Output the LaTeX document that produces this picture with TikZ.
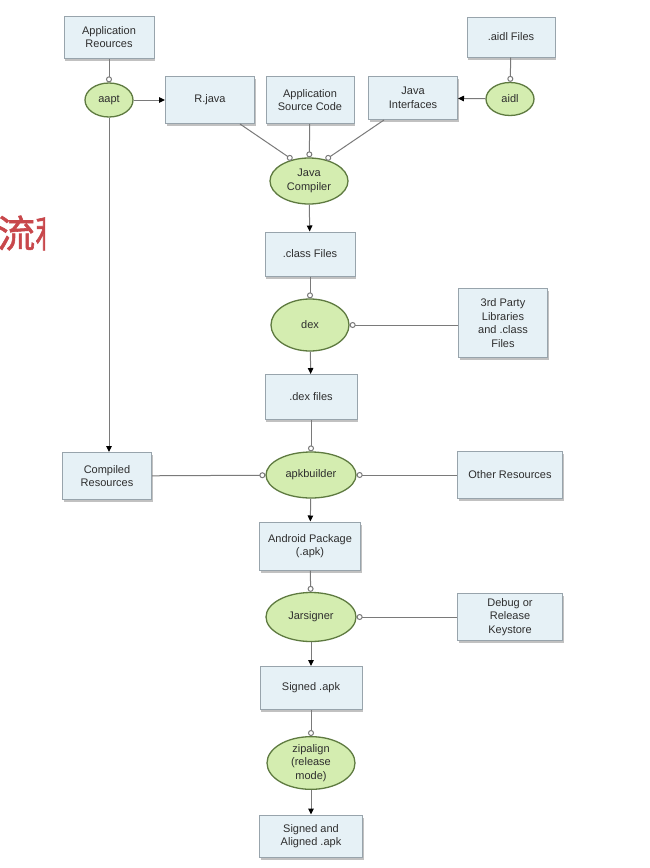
\documentclass[tikz,border=0pt]{standalone}
\usepackage{fontspec}
\setmainfont{Liberation Sans}
\newfontfamily\cjk[FakeBold=1.5]{Noto Sans CJK SC}
\usetikzlibrary{arrows.meta,shadows,shapes.geometric,calc}
\definecolor{boxfill}{HTML}{E6F1F6}
\definecolor{boxdraw}{HTML}{98A4AC}
\definecolor{ellfill}{HTML}{D4EDB0}
\definecolor{elldraw}{HTML}{5E7A40}
\definecolor{linec}{HTML}{7A7A7A}
\definecolor{txt}{HTML}{2E2E2E}
\definecolor{redtxt}{HTML}{C8474B}
\tikzset{
  box/.style={rectangle, draw=boxdraw, fill=boxfill, line width=1pt, inner sep=0pt,
    align=center, text=txt, font=\fontsize{11}{13.5}\selectfont,
    drop shadow={shadow xshift=1pt, shadow yshift=-2.5pt, fill=black!40, opacity=0.6}},
  tool/.style={ellipse, draw=elldraw, fill=ellfill, line width=1.3pt, inner sep=0pt,
    align=center, text=txt, font=\fontsize{11}{13.5}\selectfont},
  feed/.style={draw=linec, line width=1pt, -{Circle[open, length=6pt, fill=white, line width=1pt]}},
  prod/.style={draw=linec, line width=1pt, -{Triangle[length=6pt, width=5.5pt, fill=black, color=black]}},
}
\begin{document}
\begin{tikzpicture}[x=1pt,y=-1pt]
\useasboundingbox[fill=white] (0,0) rectangle (649,868);
\begin{scope}
\clip (0,190) rectangle (45,270);
\node[anchor=west, inner sep=0pt, text=redtxt, font=\cjk\fontsize{38}{40}\selectfont] (title) at (-3,233) {流程};
\end{scope}
% boxes
\node[box, minimum width=90pt, minimum height=42pt] (appres) at (109,37) {Application\\Reources};
\node[box, minimum width=89pt, minimum height=47pt] (rjava) at (210,100) {R.java};
\node[box, minimum width=88pt, minimum height=47pt] (appsrc) at (310,100) {Application\\Source Code};
\node[box, minimum width=89pt, minimum height=43pt] (jint) at (413,98) {Java\\Interfaces};
\node[box, minimum width=88pt, minimum height=40pt] (aidlf) at (511,37) {.aidl Files};
\node[box, minimum width=90pt, minimum height=44pt] (classf) at (310,254) {.class Files};
\node[box, minimum width=89pt, minimum height=69pt] (third) at (503,323) {3rd Party\\Libraries\\and .class\\Files};
\node[box, minimum width=92pt, minimum height=45pt] (dexf) at (311,397) {.dex files};
\node[box, minimum width=89pt, minimum height=47pt] (comp) at (107,476) {Compiled\\Resources};
\node[box, minimum width=105pt, minimum height=47pt] (other) at (510,475) {Other Resources};
\node[box, minimum width=101pt, minimum height=48pt] (apk) at (310,546) {Android Package\\(.apk)};
\node[box, minimum width=105pt, minimum height=47pt] (keys) at (510,617) {Debug or\\Release\\Keystore};
\node[box, minimum width=102pt, minimum height=43pt] (sapk) at (311,688) {Signed .apk};
\node[box, minimum width=103pt, minimum height=42pt] (saapk) at (311,836) {Signed and\\Aligned .apk};
% tools
\node[tool, minimum width=48pt, minimum height=34pt] (aapt) at (109,100) {aapt};
\node[tool, minimum width=48pt, minimum height=33pt] (aidl) at (510,99) {aidl};
\node[tool, minimum width=78pt, minimum height=46pt] (jc) at (309,181) {Java\\Compiler};
\node[tool, minimum width=78pt, minimum height=52pt] (dex) at (310,325) {dex};
\node[tool, minimum width=90pt, minimum height=46pt] (apkb) at (311,475) {apkbuilder};
\node[tool, minimum width=90pt, minimum height=49pt] (jar) at (311,617) {Jarsigner};
\node[tool, minimum width=88pt, minimum height=50pt] (zip) at (311,763) {zipalign\\(release\\mode)};
% connectors
\draw[feed] (appres) -- (aapt);
\draw[prod] (aapt) -- (rjava);
\draw[prod] (aapt) -- (aapt |- comp.north);
\draw[feed] ([xshift=-15pt]rjava.south east) -- (jc.128);
\draw[feed] (appsrc) -- (jc);
\draw[feed] ([xshift=16pt]jint.south west) -- (jc.52);
\draw[feed] (aidlf) -- (aidl);
\draw[prod] (aidl) -- (jint);
\draw[prod] (jc) -- (classf);
\draw[feed] (classf) -- (dex);
\draw[feed] (third.west |- dex) -- (dex);
\draw[prod] (dex) -- (dexf);
\draw[feed] (dexf) -- (apkb);
\draw[feed] (comp) -- (apkb);
\draw[feed] (other) -- (apkb);
\draw[prod] (apkb) -- (apk);
\draw[feed] (apk) -- (jar);
\draw[feed] (keys) -- (jar);
\draw[prod] (jar) -- (sapk);
\draw[feed] (sapk) -- (zip);
\draw[prod] (zip) -- (saapk);
\end{tikzpicture}
\end{document}
